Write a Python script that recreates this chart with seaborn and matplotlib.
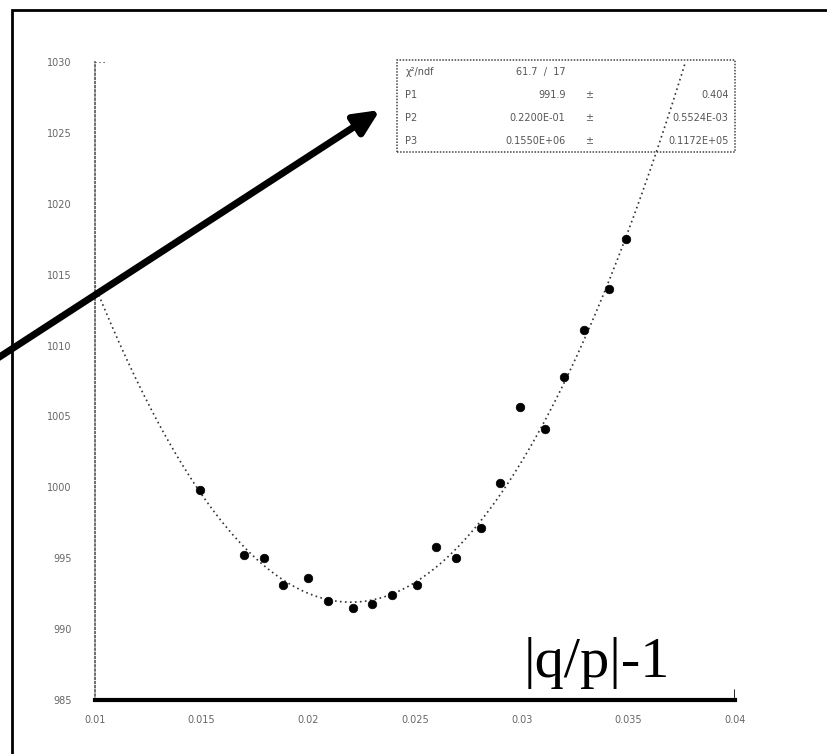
import numpy as np
import pandas as pd
import seaborn as sns
import matplotlib.pyplot as plt
from matplotlib.patches import Rectangle

# measured points (|q/p|-1 vs value)
x_vals = [0.0149, 0.0170, 0.0179, 0.0188, 0.0200, 0.0209, 0.0221, 0.0230, 0.0239, 0.0251,
          0.0260, 0.0269, 0.0281, 0.0290, 0.0299, 0.0311, 0.0320, 0.0329, 0.0341, 0.0349]
y_vals = [999.8, 995.2, 995.0, 993.1, 993.6, 992.0, 991.5, 991.8, 992.4, 993.1,
          995.8, 995.0, 997.1, 1000.3, 1005.7, 1004.1, 1007.8, 1011.1, 1014.0, 1017.5]

# parabola fit parameters p1 + p3*(x-p2)^2
p1, p2, p3 = 991.9, 0.0220, 1.55e5

x_ticks = [0.01, 0.015, 0.02, 0.025, 0.03, 0.035, 0.04]
x_tick_labels = ['0.01', '0.015', '0.02', '0.025', '0.03', '0.035', '0.04']
y_ticks = [985, 990, 995, 1000, 1005, 1010, 1015, 1020, 1025, 1030]

stat_names = ['χ²/ndf', 'P1', 'P2', 'P3']
stat_values = ['61.7  /  17', '991.9', '0.2200E-01', '0.1550E+06']
stat_errors = ['', '0.404', '0.5524E-03', '0.1172E+05']

sns.set_style('white')
plt.rcParams['font.family'] = ['DejaVu Sans']

fig = plt.figure(figsize=(8.27, 7.54), dpi=100)
ax = fig.add_axes([95 / 827, 1 - 700 / 754, 640 / 827, 638 / 754])

df = pd.DataFrame({'x': x_vals, 'y': y_vals})
xf = np.linspace(0.01, 0.04, 400)
fit = pd.DataFrame({'x': xf, 'y': p1 + p3 * (xf - p2) ** 2})

sns.lineplot(data=fit, x='x', y='y', ax=ax, color='#333333', lw=1.2,
             linestyle=(0, (1, 2)), zorder=2)
sns.scatterplot(data=df, x='x', y='y', ax=ax, color='black', s=38,
                edgecolor='black', linewidth=0.5, zorder=3)

ax.set_xlim(0.01, 0.04)
ax.set_ylim(985, 1030)
ax.set_xlabel('')
ax.set_ylabel('')
ax.set_xticks(x_ticks)
ax.set_xticklabels(x_tick_labels)
ax.set_yticks(y_ticks)
ax.set_yticklabels([str(v) for v in y_ticks])
ax.set_xticks(np.arange(0.01, 0.0401, 0.001), minor=True)
ax.tick_params(axis='x', which='major', direction='in', length=5, width=1.5,
               labelsize=7, labelcolor='#666666', pad=11)
ax.tick_params(axis='x', which='minor', direction='in', length=2, width=1)
ax.tick_params(axis='y', length=0, labelsize=7, labelcolor='#666666', pad=17)

for side in ['top', 'right']:
    ax.spines[side].set_visible(False)
ax.spines['bottom'].set_linewidth(3)
ax.spines['bottom'].set_color('black')
ax.spines['left'].set_linestyle((0, (1, 1.5)))
ax.spines['left'].set_linewidth(1.2)
ax.spines['left'].set_color('#555555')
ax.axhline(1030, xmin=0, xmax=0.016, ls=(0, (1, 1.5)), color='#555555', lw=1.2)
ax.axvline(0.04, ymin=0, ymax=0.016, color='black', lw=1.2)

# stats box
box = Rectangle((0.472, 0.859), 0.528, 0.144, transform=ax.transAxes, fill=True,
                facecolor='white', edgecolor='#444444', linestyle=(0, (1, 1)),
                lw=1.1, zorder=1, clip_on=False)
ax.add_patch(box)
row_y = [0.984, 0.948, 0.912, 0.876]
for i in range(4):
    ax.text(0.485, row_y[i], stat_names[i], transform=ax.transAxes, fontsize=7,
            color='#555555', va='center')
    ax.text(0.735, row_y[i], stat_values[i], transform=ax.transAxes, fontsize=7,
            color='#555555', va='center', ha='right')
    if stat_errors[i]:
        ax.text(0.765, row_y[i], '±', transform=ax.transAxes, fontsize=7,
                color='#555555', va='center')
        ax.text(0.99, row_y[i], stat_errors[i], transform=ax.transAxes, fontsize=7,
                color='#555555', va='center', ha='right')

# big label
fig.text(524 / 827, 1 - 677 / 754, '|q/p|-1', fontsize=42,
         family='Liberation Serif', color='black', va='baseline')

# arrow pointing to stats box
ax.annotate('', xy=(380 / 827, 1 - 110 / 754), xycoords='figure fraction',
            xytext=(-0.01, 1 - 362 / 754), textcoords='figure fraction',
            arrowprops=dict(arrowstyle='-|>,head_length=1.5,head_width=0.7',
                            lw=5, color='black', shrinkA=0, shrinkB=0))

# outer frame
fig.patches.append(Rectangle((12 / 827, -0.1), 1.2, 1 - 10 / 754 + 0.1,
                             transform=fig.transFigure, fill=False,
                             edgecolor='black', lw=2))

fig.savefig('out.png', dpi=100)
